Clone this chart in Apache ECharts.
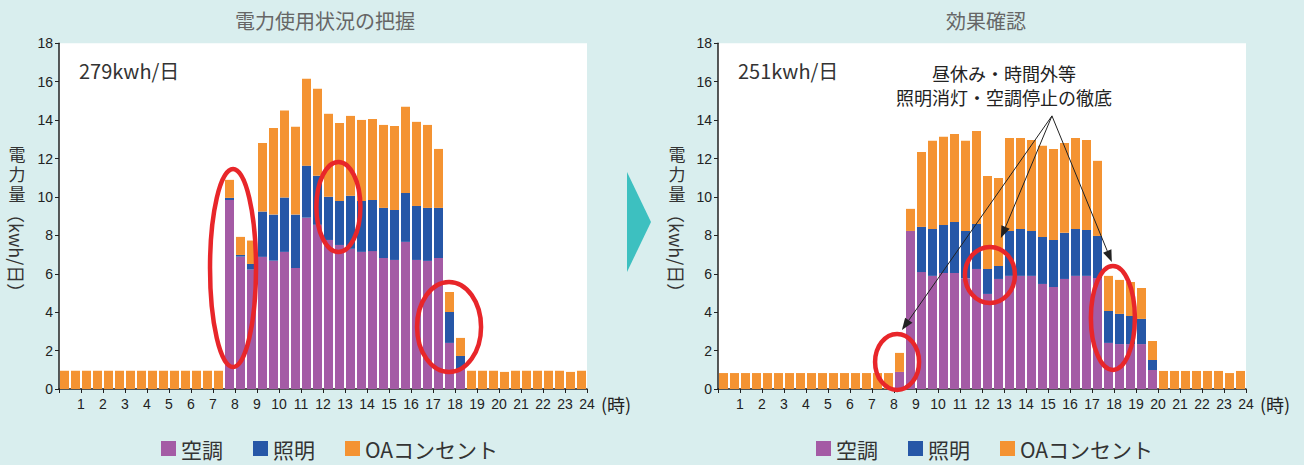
<!DOCTYPE html>
<html>
<head>
<meta charset="utf-8">
<script src="https://cdn.jsdelivr.net/npm/echarts@6/dist/echarts.min.js"></script>
<style>
  html, body { margin: 0; padding: 0; background: #d9eeee; }
  #chart { width: 1304px; height: 465px; }
</style>
</head>
<body>
<div id="chart"></div>
<script>
// Electricity use per half hour (kWh), 48 slots from 0:00 to 24:00.
const categories = ['空調', '照明', 'OAコンセント'];
const panelTitles = ['電力使用状況の把握', '効果確認'];
const dailyTotals = ['279kwh/日', '251kwh/日'];
const hourLabels = ['', '1', '2', '3', '4', '5', '6', '7', '8', '9', '10', '11', '12',
  '13', '14', '15', '16', '17', '18', '19', '20', '21', '22', '23', '24'];
const noteLines = ['昼休み・時間外等', '照明消灯・空調停止の徹底'];
// Half-hour slot names: 0:00, 0:30, ... 23:30
const slots = Array.from({ length: 48 }, (_, i) => Math.floor(i / 2) + ':' + (i % 2 ? '30' : '00'));

// Before: the current state
const beforeAircon = [
  0, 0, 0, 0, 0, 0, 0, 0, 0, 0, 0, 0, 0, 0, 0,
  9.84, 6.89, 6.22, 6.88, 6.68, 7.14, 6.30, 8.92, 8.55, 7.76, 7.50,
  7.30, 7.14, 7.18, 6.82, 6.72, 7.66, 6.72, 6.67, 6.82, 2.40, 1.04,
  0, 0, 0, 0, 0, 0, 0, 0, 0, 0, 0
];
const beforeLighting = [
  0, 0, 0, 0, 0, 0, 0, 0, 0, 0, 0, 0, 0, 0, 0,
  0.11, 0.09, 0.29, 2.36, 2.40, 2.83, 2.78, 2.71, 2.55, 2.25, 2.29,
  2.76, 2.65, 2.66, 2.61, 2.60, 2.55, 2.81, 2.76, 2.61, 1.61, 0.68,
  0, 0, 0, 0, 0, 0, 0, 0, 0, 0, 0
];
const beforeOA = [
  0.95, 0.95, 0.95, 0.95, 0.95, 0.95, 0.95, 0.95, 0.95, 0.95, 0.95, 0.95, 0.95, 0.95, 0.95,
  0.94, 0.94, 1.22, 3.57, 4.51, 4.53, 4.57, 4.52, 4.53, 4.32, 4.06,
  4.16, 4.22, 4.22, 4.32, 4.38, 4.48, 4.38, 4.32, 3.07, 1.04, 0.94,
  0.95, 0.95, 0.95, 0.89, 0.95, 0.95, 0.95, 0.95, 0.95, 0.89, 0.95
];

// After: with the savings measures in place
const afterAircon = [
  0, 0, 0, 0, 0, 0, 0, 0, 0, 0, 0, 0, 0, 0, 0, 0,
  0.89, 8.23, 6.09, 5.89, 6.04, 6.04, 5.76, 6.25, 4.95, 5.73, 5.89, 5.89,
  5.89, 5.47, 5.31, 5.73, 5.89, 5.89, 5.78, 2.40, 2.34, 2.34, 2.34, 0.99,
  0, 0, 0, 0, 0, 0, 0, 0
];
const afterLighting = [
  0, 0, 0, 0, 0, 0, 0, 0, 0, 0, 0, 0, 0, 0, 0, 0,
  0, 0, 2.35, 2.44, 2.50, 2.66, 2.47, 2.34, 1.30, 0.68, 2.34, 2.44,
  2.34, 2.45, 2.45, 2.40, 2.44, 2.39, 2.19, 1.66, 1.57, 1.46, 1.31, 0.52,
  0, 0, 0, 0, 0, 0, 0, 0
];
const afterOA = [
  0.83, 0.83, 0.83, 0.83, 0.83, 0.83, 0.83, 0.83, 0.83, 0.83, 0.83, 0.83, 0.83, 0.83, 0.83, 0.83,
  0.99, 1.15, 3.90, 4.59, 4.59, 4.58, 4.69, 4.85, 4.84, 4.58, 4.84, 4.74,
  4.74, 4.74, 4.74, 4.68, 4.74, 4.69, 3.91, 1.83, 1.77, 1.77, 1.61, 0.99,
  0.94, 0.94, 0.94, 0.94, 0.94, 0.94, 0.83, 0.94
];

const panels = [
  [beforeAircon, beforeLighting, beforeOA],
  [afterAircon, afterLighting, afterOA]
];

const colors = ['#a45ba5', '#2657a7', '#f49332'];
const cjk = '"Noto Sans CJK JP", "Noto Sans", sans-serif';
const digits = '"Liberation Sans Narrow", "Liberation Sans", Arial, sans-serif';
const gridLefts = [59, 718];
const gridTop = 43.3;
const gridW = 528;
const gridH = 345.7;

const chart = echarts.init(document.getElementById('chart'), null, { renderer: 'svg' });

const grid = gridLefts.map(l => ({
  left: l, top: gridTop, width: gridW, height: gridH,
  show: true, backgroundColor: '#ffffff', borderWidth: 0
}));

// Per panel: a hidden category axis carrying the 48 half-hour bars,
// and a visible 0–24 hour axis carrying the ticks and hour labels.
const xAxis = [];
gridLefts.forEach((_, g) => {
  xAxis.push({
    gridIndex: g, type: 'category', data: slots, boundaryGap: true,
    position: 'bottom', show: false
  });
  xAxis.push({
    gridIndex: g, type: 'value', min: 0, max: 24, interval: 1,
    position: 'bottom', offset: 0,
    axisLine: { show: true, onZero: false, lineStyle: { color: '#222', width: 1.5 } },
    axisTick: { show: true, length: 4, lineStyle: { color: '#222' } },
    axisLabel: {
      formatter: v => hourLabels[v] || '',
      fontSize: 14, color: '#222', margin: 8, fontFamily: digits
    },
    splitLine: { show: false }
  });
});

const yAxis = gridLefts.map((_, g) => ({
  gridIndex: g, type: 'value', min: 0, max: 18, interval: 2,
  axisLine: { show: true, lineStyle: { color: '#222', width: 1.5 } },
  axisTick: { show: true, length: 4, lineStyle: { color: '#222' } },
  axisLabel: { fontSize: 14, color: '#222', margin: 6, fontFamily: digits },
  splitLine: { show: false }
}));

const series = [];
panels.forEach((arrs, g) => {
  arrs.forEach((arr, k) => {
    series.push({
      type: 'bar',
      name: categories[k],
      xAxisIndex: g * 2, yAxisIndex: g,
      stack: 'panel' + g,
      barWidth: 9,
      data: arr,
      itemStyle: { color: colors[k] },
      emphasis: { disabled: true }
    });
  });
});

const legend = [161, 816].map(l => ({
  data: categories, left: l, top: 438, orient: 'horizontal', padding: 0,
  icon: 'rect', itemWidth: 15, itemHeight: 15, itemGap: 30,
  selectedMode: false,
  textStyle: { fontSize: 21, color: '#333', fontFamily: cjk }
}));

chart.setOption({
  animation: false,
  backgroundColor: '#d9eeee',
  grid, xAxis, yAxis, series, legend
});

// Annotation rings, given in (hour, kWh) of their panel
const rings = [
  { g: 0, at: [7.91, 6.3], rx: 23, ry: 99 },
  { g: 0, at: [12.7, 9.48], rx: 22, ry: 45 },
  { g: 0, at: [17.73, 3.23], rx: 32, ry: 45 },
  { g: 1, at: [8.14, 1.41], rx: 22, ry: 28 },
  { g: 1, at: [12.36, 5.94], rx: 25, ry: 28 },
  { g: 1, at: [17.95, 3.7], rx: 22, ry: 52 }
];
// Callout arrows in the second panel: one origin, three targets
const arrowFrom = [15.18, 14.22];
const arrowTo = [[8.36, 3.07], [12.86, 7.86], [17.9, 6.61]];

const px = (g, p) => chart.convertToPixel({ xAxisIndex: g * 2 + 1, yAxisIndex: g }, p);
const graphics = [];
const Z = 100;

// Panel titles, totals, axis names
panelTitles.forEach((t, g) => {
  graphics.push({
    type: 'text', x: [325, 986][g], y: 20, z: Z,
    style: { text: t, fontSize: 20, fill: '#666', fontFamily: cjk, align: 'center', verticalAlign: 'middle' }
  });
});
dailyTotals.forEach((t, g) => {
  graphics.push({
    type: 'text', x: gridLefts[g] + 20, y: 70, z: Z,
    style: { text: t, fontSize: 20, fill: '#333', fontFamily: cjk, align: 'left', verticalAlign: 'middle' }
  });
});
// Vertical axis name: upright kanji, then the unit turned sideways
[17, 677].forEach(x => {
  ['電', '力', '量'].forEach((ch, i) => {
    graphics.push({
      type: 'text', x: x, y: 153 + i * 20, z: Z,
      style: { text: ch, fontSize: 17, lineHeight: 17, fill: '#333', fontFamily: cjk, align: 'center', verticalAlign: 'middle' }
    });
  });
  graphics.push({
    type: 'text', x: x, y: 205, rotation: -Math.PI / 2, z: Z,
    style: { text: '（kwh/日）', fontSize: 18, lineHeight: 18, fill: '#333', fontFamily: cjk, align: 'left', verticalAlign: 'middle' }
  });
});
gridLefts.forEach(l => {
  graphics.push({
    type: 'text', x: l + gridW + 14, y: 404, z: Z,
    style: { text: '(時)', fontSize: 18, fill: '#222', fontFamily: cjk, align: 'left', verticalAlign: 'middle' }
  });
});

// Arrow between the two panels
graphics.push({
  type: 'polygon', z: Z,
  shape: { points: [[627, 172], [651, 222], [627, 272]] },
  style: { fill: '#3dc0c0' }
});

// Note text above the second panel
noteLines.forEach((t, i) => {
  graphics.push({
    type: 'text', x: 1004, y: 73 + i * 24, z: Z,
    style: { text: t, fontSize: 18, fill: '#222', fontFamily: cjk, align: 'center', verticalAlign: 'middle' }
  });
});

// Callout arrows
const a = px(1, arrowFrom);
arrowTo.forEach(p => {
  const t = px(1, p);
  const dx = t[0] - a[0], dy = t[1] - a[1];
  const len = Math.hypot(dx, dy);
  const ux = dx / len, uy = dy / len;
  const nx = -uy, ny = ux;
  const L = 12, W = 4.5;
  const bx = t[0] - ux * L, by = t[1] - uy * L;
  graphics.push({
    type: 'line', z: Z, shape: { x1: a[0], y1: a[1], x2: bx, y2: by },
    style: { stroke: '#222', lineWidth: 1 }
  });
  graphics.push({
    type: 'polygon', z: Z,
    shape: { points: [[t[0], t[1]], [bx + nx * W, by + ny * W], [bx - nx * W, by - ny * W]] },
    style: { fill: '#222' }
  });
});

// Red rings
rings.forEach(r => {
  const c = px(r.g, r.at);
  graphics.push({
    type: 'ellipse', z: Z,
    shape: { cx: c[0], cy: c[1], rx: r.rx, ry: r.ry },
    style: { fill: 'none', stroke: '#e8262a', lineWidth: 4.5 }
  });
});

chart.setOption({ graphic: graphics });
</script>
</body>
</html>
